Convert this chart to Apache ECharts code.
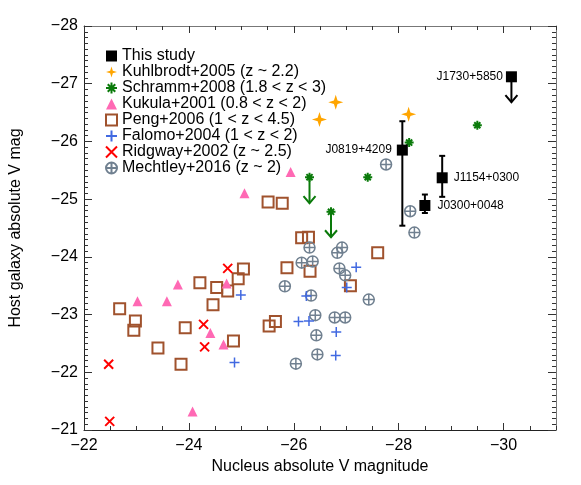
<!DOCTYPE html>
<html><head><meta charset="utf-8">
<script src="https://cdn.jsdelivr.net/npm/echarts@6/dist/echarts.min.js"></script>
<style>html,body{margin:0;padding:0;background:#fff}#c{width:581px;height:485px}</style>
</head><body><div id="c"></div>
<script>
// ---------- data ----------
const xTickValues = [-22, -24, -26, -28, -30];
const yTickValues = [-28, -27, -26, -25, -24, -23, -22, -21];

const studyNames = ['J1730+5850', 'J0819+4209', 'J1154+0300', 'J0300+0048'];
const studyX = [-30.15, -28.07, -28.83, -28.50];
const studyY = [-27.12, -25.85, -25.37, -24.89];
const studyErrHi = [null, -26.35, -25.75, -25.08];
const studyErrLo = [null, -24.54, -25.04, -24.76];
const studyLimitTip = [-26.68, null, null, null];

const kuhlX = [-26.49, -26.80, -28.19];
const kuhlY = [-26.38, -26.68, -26.47];

const schrammX = [-29.50, -28.20, -27.41, -26.30, -26.71];
const schrammY = [-26.28, -25.98, -25.38, -25.38, -24.78];
const schrammLimitTip = [null, null, null, -24.93, -24.34];

const kukulaX = [-25.94, -25.06, -23.79, -23.02, -23.58, -24.72, -24.41, -24.66, -24.07];
const kukulaY = [-25.47, -25.10, -23.52, -23.23, -23.23, -23.54, -22.68, -22.48, -21.32];

const pengX = [-22.68, -22.98, -22.95, -23.41, -23.85, -23.93, -24.46, -24.21, -24.53, -24.74, -24.94, -25.04,
               -24.85, -25.53, -25.65, -25.87, -26.15, -26.28, -26.31, -25.51, -25.78, -27.60, -27.08];
const pengY = [-23.10, -22.89, -22.73, -22.42, -22.14, -22.77, -23.17, -23.55, -23.47, -23.41, -23.62, -23.79,
               -22.54, -22.80, -22.88, -23.81, -24.33, -24.34, -23.75, -24.95, -24.93, -24.07, -23.50];

const falomoX = [-24.99, -24.87, -26.09, -26.29, -26.24, -26.81, -26.80, -27.01, -27.19];
const falomoY = [-23.34, -22.17, -22.88, -22.89, -23.32, -22.70, -22.29, -23.47, -23.82];

const ridgwayX = [-24.74, -24.28, -24.30, -22.47, -22.49];
const ridgwayY = [-23.80, -22.83, -22.44, -22.14, -21.15];

const mechtleyX = [-27.76, -28.22, -28.30, -26.30, -26.92, -26.83, -26.15, -26.36, -26.87, -26.98, -25.83, -26.33,
                   -27.43, -26.41, -26.78, -26.98, -26.43, -26.45, -26.04];
const mechtleyY = [-25.60, -24.79, -24.42, -24.16, -24.16, -24.07, -23.90, -23.92, -23.80, -23.68, -23.49, -23.33,
                   -23.26, -22.99, -22.95, -22.95, -22.64, -22.31, -22.15];

const seriesNames = ['This study', 'Kuhlbrodt+2005 (z ~ 2.2)', 'Schramm+2008 (1.8 < z < 3)', 'Kukula+2001 (0.8 < z < 2)',
                     'Peng+2006 (1 < z < 4.5)', 'Falomo+2004 (1 < z < 2)', 'Ridgway+2002 (z ~ 2.5)', 'Mechtley+2016 (z ~ 2)'];

// ---------- helpers ----------
const zip = (a, b) => a.map((v, i) => [v, b[i]]);
const minus = v => String(v).replace('-', '\u2212');
const FONT = 'Liberation Sans, Arial, Helvetica, sans-serif';

const STAR4 = 'path://M5,0L6.2,3.8L10,5L6.2,6.2L5,10L3.8,6.2L0,5L3.8,3.8Z';
const ASTER = 'path://M5,0L5,10M0,5L10,5M1.6,1.6L8.4,8.4M8.4,1.6L1.6,8.4';
const PLUS = 'path://M0,5L10,5M5,0L5,10';
const CROSS = 'path://M0,0L10,10M10,0L0,10';
const CIRCPLUS = 'path://M0,5A5,5 0 1 1 10,5A5,5 0 1 1 0,5ZM0,5L10,5M5,0L5,10';

const errData = [];
studyX.forEach((x, i) => { if (studyErrHi[i] !== null) errData.push([x, studyErrHi[i], studyErrLo[i]]); });
const arrowData = [];
studyX.forEach((x, i) => { if (studyLimitTip[i] !== null) arrowData.push([x, studyY[i], studyLimitTip[i], 0]); });
schrammX.forEach((x, i) => { if (schrammLimitTip[i] !== null) arrowData.push([x, schrammY[i], schrammLimitTip[i], 1]); });
const arrowColors = ['#000000', '#0a7a0a'];

const studyData = studyX.map((x, i) => {
  const left = i < 2;
  return {
    value: [x, studyY[i]],
    label: {
      show: true, formatter: studyNames[i], position: left ? 'left' : 'right',
      distance: [3, 5, 6, 7][i], fontSize: 12, color: '#000', fontFamily: FONT
    }
  };
});

function axisX(pos, major) {
  return {
    type: 'value', min: -31, max: -22, inverse: true, position: pos,
    interval: major ? undefined : 0.5,
    axisLine: { show: major, onZero: false, lineStyle: { color: pos === 'bottom' ? '#222' : '#777', width: 1 } },
    axisTick: major
      ? { show: true, inside: true, length: 7, customValues: xTickValues, lineStyle: { color: '#333' } }
      : { show: true, inside: true, length: 4, lineStyle: { color: '#333' } },
    axisLabel: (major && pos === 'bottom')
      ? { show: true, customValues: xTickValues, formatter: minus, fontSize: 16, color: '#000', margin: 8, fontFamily: FONT }
      : { show: false },
    splitLine: { show: false },
    name: (major && pos === 'bottom') ? 'Nucleus absolute V magnitude' : '',
    nameLocation: 'middle', nameGap: 28,
    nameTextStyle: { fontSize: 16, color: '#000', fontFamily: FONT }
  };
}
function axisY(pos) {
  return {
    type: 'value', min: -28, max: -21, inverse: true, interval: 1, position: pos,
    axisLine: { show: true, onZero: false, lineStyle: { color: pos === 'left' ? '#222' : '#777', width: 1 } },
    axisTick: { show: true, inside: true, length: 8, lineStyle: { color: '#333' } },
    minorTick: { show: true, splitNumber: 10, length: 4, lineStyle: { color: '#333' } },
    axisLabel: pos === 'left'
      ? { show: true, formatter: minus, fontSize: 16, color: '#000', margin: 6, fontFamily: FONT }
      : { show: false },
    splitLine: { show: false }, minorSplitLine: { show: false },
    name: pos === 'left' ? 'Host galaxy absolute V mag' : '',
    nameLocation: 'middle', nameGap: 60,
    nameTextStyle: { fontSize: 16, color: '#000', fontFamily: FONT }
  };
}

const chart = echarts.init(document.getElementById('c'), null, { renderer: 'canvas' });
chart.setOption({
  animation: false,
  backgroundColor: '#fff',
  textStyle: { fontFamily: FONT },
  grid: { left: 84, right: 25, top: 26, bottom: 55, containLabel: false, outerBoundsMode: 'none' },
  xAxis: [axisX('bottom', true), axisX('bottom', false), axisX('top', true), axisX('top', false)],
  yAxis: [axisY('left'), axisY('right')],
  legend: {
    orient: 'vertical', left: 100, top: 43, itemWidth: 11, itemHeight: 11, itemGap: 0,
    textStyle: { fontSize: 16, color: '#000', fontFamily: FONT },
    data: seriesNames
  },
  series: [
    {
      type: 'custom', name: 'errbars', xAxisIndex: 0, yAxisIndex: 0, data: errData, z: 3,
      renderItem: (params, api) => {
        const x = api.value(0);
        const p1 = api.coord([x, api.value(1)]);
        const p2 = api.coord([x, api.value(2)]);
        const st = { stroke: '#000', lineWidth: 2 };
        return {
          type: 'group', children: [
            { type: 'line', shape: { x1: p1[0], y1: p1[1], x2: p2[0], y2: p2[1] }, style: st },
            { type: 'line', shape: { x1: p1[0] - 3, y1: p1[1], x2: p1[0] + 3, y2: p1[1] }, style: st },
            { type: 'line', shape: { x1: p2[0] - 3, y1: p2[1], x2: p2[0] + 3, y2: p2[1] }, style: st }
          ]
        };
      }
    },
    {
      type: 'custom', name: 'limits', xAxisIndex: 0, yAxisIndex: 0, data: arrowData, z: 3,
      renderItem: (params, api) => {
        const x = api.value(0);
        const p1 = api.coord([x, api.value(1)]);
        const p2 = api.coord([x, api.value(2)]);
        const st = { stroke: arrowColors[api.value(3)], lineWidth: 2, fill: null };
        return {
          type: 'group', children: [
            { type: 'line', shape: { x1: p1[0], y1: p1[1], x2: p2[0], y2: p2[1] }, style: st },
            { type: 'polyline', shape: { points: [[p2[0] - 6, p2[1] - 7], [p2[0], p2[1]], [p2[0] + 6, p2[1] - 7]] }, style: st }
          ]
        };
      }
    },
    {
      type: 'scatter', name: seriesNames[4], data: zip(pengX, pengY), symbol: 'rect', symbolSize: 11,
      itemStyle: { color: 'transparent', borderColor: '#a0522d', borderWidth: 2, opacity: 1 }, z: 4
    },
    {
      type: 'scatter', name: seriesNames[7], data: zip(mechtleyX, mechtleyY), symbol: CIRCPLUS, symbolSize: 11,
      itemStyle: { color: 'transparent', borderColor: '#708090', borderWidth: 1.5, opacity: 1 }, z: 4
    },
    {
      type: 'scatter', name: seriesNames[5], data: zip(falomoX, falomoY), symbol: PLUS, symbolSize: 10,
      itemStyle: { color: 'transparent', borderColor: '#4169e1', borderWidth: 1.5, opacity: 1 }, z: 4
    },
    {
      type: 'scatter', name: seriesNames[3], data: zip(kukulaX, kukulaY), symbol: 'triangle', symbolSize: 10,
      itemStyle: { color: '#ff69b4', opacity: 1 }, z: 4
    },
    {
      type: 'scatter', name: seriesNames[6], data: zip(ridgwayX, ridgwayY), symbol: CROSS, symbolSize: 9,
      itemStyle: { color: 'transparent', borderColor: '#ff0000', borderWidth: 2, opacity: 1 }, z: 4
    },
    {
      type: 'scatter', name: seriesNames[1], data: zip(kuhlX, kuhlY), symbol: STAR4, symbolSize: 15,
      itemStyle: { color: '#ffa500', opacity: 1 }, z: 4
    },
    {
      type: 'scatter', name: seriesNames[2], data: zip(schrammX, schrammY), symbol: ASTER, symbolSize: 9,
      itemStyle: { color: 'transparent', borderColor: '#0a7a0a', borderWidth: 2, opacity: 1 }, z: 5
    },
    {
      type: 'scatter', name: seriesNames[0], data: studyData, symbol: 'rect', symbolSize: 11,
      itemStyle: { color: '#000', opacity: 1 }, z: 6
    }
  ]
});
</script>
</body></html>
